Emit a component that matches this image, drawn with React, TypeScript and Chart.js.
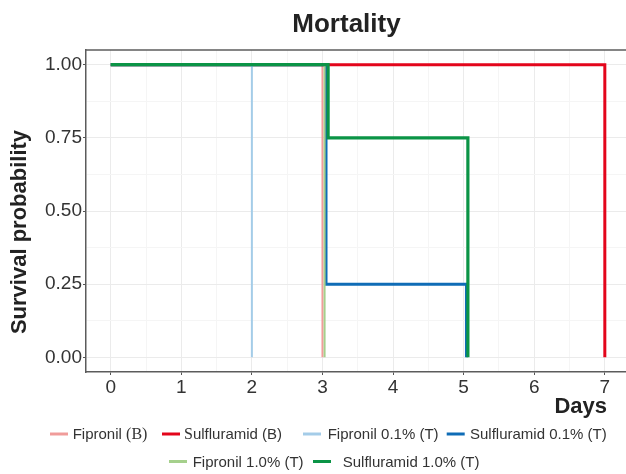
import React, { useEffect, useRef } from "react";
import { Chart, registerables } from "chart.js";

Chart.register(...registerables);

// ---------- data ----------
const seriesNames = [
  "Fipronil (B)",
  "Sulfluramid (B)",
  "Fipronil 0.1% (T)",
  "Sulfluramid 0.1% (T)",
  "Fipronil 1.0% (T)",
  "Sulfluramid 1.0% (T)",
];
// characters of each legend label that the original shows in a serif face [start, end)
const serifRuns: number[][] = [[9, 12], [0, 1], [], [], [], []];

const fipronilBDays = [0, 3];
const fipronilBSurv = [1, 0];
const sulfluramidBDays = [0, 7];
const sulfluramidBSurv = [1, 0];
const fipronil01Days = [0, 2];
const fipronil01Surv = [1, 0];
const sulfluramid01Days = [0, 3.05, 5.04];
const sulfluramid01Surv = [1, 0.25, 0];
const fipronil10Days = [0, 3.03];
const fipronil10Surv = [1, 0];
const sulfluramid10Days = [0, 3.08, 5.06];
const sulfluramid10Surv = [1, 0.75, 0];

const xTickValues = [0, 1, 2, 3, 4, 5, 6, 7];
const yTickValues = [0, 0.25, 0.5, 0.75, 1];

const titleText = "Mortality";
const xTitleText = "Days";
const yTitleText = "Survival probability";

// ---------- styles ----------
const seriesColors = ["#F09C9A", "#E3051B", "#A4CCE8", "#0F6CB6", "#A5D08C", "#0B9446"];
const seriesWidths = [2, 3, 2, 3, 2, 3.2];
const SANS = '"Liberation Sans", Arial, sans-serif';
const SERIF = '"Liberation Serif", "Times New Roman", serif';

// legend layout (key start x, text start x, row y)
const legendKeyX = [50, 162, 303, 446.7, 169, 313];
const legendTextX = [72.7, 184, 327.7, 470, 192.7, 342.7];
const legendRowY = [434, 434, 434, 434, 461.5, 461.5];

const seriesDays = [fipronilBDays, sulfluramidBDays, fipronil01Days, sulfluramid01Days, fipronil10Days, sulfluramid10Days];
const seriesSurv = [fipronilBSurv, sulfluramidBSurv, fipronil01Surv, sulfluramid01Surv, fipronil10Surv, sulfluramid10Surv];

const withMinor = (vals: number[]) => {
  const out: number[] = [];
  vals.forEach((v, i) => {
    out.push(v);
    if (i < vals.length - 1) out.push((v + vals[i + 1]) / 2);
  });
  return out;
};
const isMajor = (vals: number[], v: number) => vals.some((m) => Math.abs(m - v) < 1e-9);

const textPlugin = {
  id: "customText",
  afterDraw(chart: any) {
    const ctx: CanvasRenderingContext2D = chart.ctx;
    const a = chart.chartArea;
    ctx.save();
    // panel top border
    ctx.strokeStyle = "#5c5c5c";
    ctx.lineWidth = 1.5;
    ctx.beginPath();
    ctx.moveTo(a.left, a.top);
    ctx.lineTo(a.right, a.top);
    ctx.stroke();

    // title
    ctx.fillStyle = "#222222";
    ctx.textAlign = "center";
    ctx.textBaseline = "alphabetic";
    ctx.font = `bold 26px ${SANS}`;
    ctx.fillText(titleText, 346.5, 32);

    // x title
    ctx.textAlign = "right";
    ctx.font = `bold 22px ${SANS}`;
    ctx.fillText(xTitleText, 607, 413);

    // y title
    ctx.save();
    ctx.translate(26, 232);
    ctx.rotate(-Math.PI / 2);
    ctx.textAlign = "center";
    ctx.fillText(yTitleText, 0, 0);
    ctx.restore();

    // legend
    ctx.textAlign = "left";
    ctx.textBaseline = "middle";
    seriesNames.forEach((name, i) => {
      const y = legendRowY[i];
      ctx.strokeStyle = seriesColors[i];
      ctx.lineWidth = 3;
      ctx.beginPath();
      ctx.moveTo(legendKeyX[i], y);
      ctx.lineTo(legendKeyX[i] + 18, y);
      ctx.stroke();
      ctx.fillStyle = "#333333";
      let x = legendTextX[i];
      const run = serifRuns[i];
      const parts: { t: string; serif: boolean }[] = [];
      if (run.length === 2) {
        if (run[0] > 0) parts.push({ t: name.slice(0, run[0]), serif: false });
        parts.push({ t: name.slice(run[0], run[1]), serif: true });
        if (run[1] < name.length) parts.push({ t: name.slice(run[1]), serif: false });
      } else parts.push({ t: name, serif: false });
      parts.forEach((p) => {
        ctx.font = p.serif ? `16px ${SERIF}` : `15px ${SANS}`;
        ctx.fillText(p.t, x, y + 1);
        x += ctx.measureText(p.t).width;
      });
    });
    ctx.restore();
  },
};

export default function App() {
  const ref = useRef<HTMLCanvasElement | null>(null);
  useEffect(() => {
    if (!ref.current) return;
    const xGrid = withMinor(xTickValues);
    const yGrid = withMinor(yTickValues);
    const datasets = seriesNames.map((name, i) => ({
      label: name,
      data: seriesDays[i].map((d, j) => ({ x: d, y: seriesSurv[i][j] })),
      borderColor: seriesColors[i],
      backgroundColor: seriesColors[i],
      borderWidth: seriesWidths[i],
      pointRadius: 0,
      stepped: "before" as const,
      fill: false,
      order: seriesNames.length - i,
    }));
    const chart = new Chart(ref.current, {
      type: "line",
      data: { datasets },
      options: {
        animation: false,
        responsive: false,
        devicePixelRatio: 1,
        layout: { padding: { top: 50, left: 0, right: 0, bottom: 0 } },
        plugins: { legend: { display: false }, tooltip: { enabled: false }, title: { display: false } },
        scales: {
          x: {
            type: "linear",
            min: -0.35,
            max: 7.3,
            afterBuildTicks: (s: any) => {
              s.ticks = xGrid.map((v) => ({ value: v }));
            },
            afterFit: (s: any) => {
              s.height = 102;
            },
            ticks: {
              autoSkip: false,
              maxRotation: 0,
              padding: 1,
              color: "#333333",
              font: { family: SANS, size: 19 },
              callback: (v: any) => (isMajor(xTickValues, Number(v)) ? String(v) : ""),
            },
            grid: {
              color: (c: any) => (isMajor(xTickValues, c.tick.value) ? "#EBEBEB" : "#F5F5F5"),
              tickColor: (c: any) => (isMajor(xTickValues, c.tick.value) ? "#555555" : "rgba(0,0,0,0)"),
              tickLength: 3,
              lineWidth: 1,
            },
            border: { color: "#5c5c5c", width: 1.5 },
          },
          y: {
            type: "linear",
            min: -0.05,
            max: 1.05,
            afterBuildTicks: (s: any) => {
              s.ticks = yGrid.map((v) => ({ value: v }));
            },
            afterFit: (s: any) => {
              s.width = 86;
            },
            ticks: {
              autoSkip: false,
              padding: 1,
              color: "#333333",
              font: { family: SANS, size: 19 },
              callback: (v: any) => (isMajor(yTickValues, Number(v)) ? Number(v).toFixed(2) : ""),
            },
            grid: {
              color: (c: any) => (isMajor(yTickValues, c.tick.value) ? "#EBEBEB" : "#F5F5F5"),
              tickColor: (c: any) => (isMajor(yTickValues, c.tick.value) ? "#555555" : "rgba(0,0,0,0)"),
              tickLength: 3,
              lineWidth: 1,
            },
            border: { color: "#5c5c5c", width: 1.5 },
          },
        },
      },
      plugins: [textPlugin],
    } as any);
    return () => chart.destroy();
  }, []);
  return (
    <div style={{ position: "fixed", left: 0, top: 0, width: 626, height: 474, background: "#fff" }}>
      <canvas ref={ref} width={626} height={474} />
    </div>
  );
}
